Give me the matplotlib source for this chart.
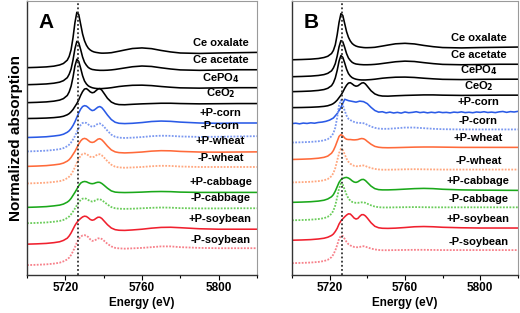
import matplotlib.pyplot as plt
from matplotlib.ticker import MultipleLocator

# energy grid (eV) shared by the read-off spectra
energy = [5700, 5705, 5710, 5714, 5717, 5719, 5721, 5722, 5723, 5724, 5725, 5726, 5727, 5728,
          5729, 5730, 5731, 5732, 5733, 5734, 5735, 5736, 5737, 5738, 5739, 5740, 5742, 5744,
          5746, 5748, 5751, 5755, 5760, 5765, 5770, 5775, 5780, 5790, 5800, 5810, 5820]

# reference compounds (normalized absorption, pre-edge = 0)
ce_oxalate = [0, 0.02, 0.05, 0.1, 0.18, 0.28, 0.5, 0.75, 1.2, 2.0, 3.0, 3.7, 3.55, 2.9, 2.25, 1.8,
              1.5, 1.3, 1.18, 1.1, 1.05, 1.02, 1.0, 0.98, 0.97, 0.97, 0.98, 1.0, 1.05, 1.1, 1.18,
              1.28, 1.32, 1.27, 1.15, 1.05, 0.98, 0.95, 0.98, 1.0, 1.02]
ce_acetate = [0, 0.02, 0.05, 0.1, 0.17, 0.27, 0.47, 0.7, 1.05, 1.65, 2.4, 2.9, 2.8, 2.35, 1.85, 1.5,
              1.3, 1.15, 1.07, 1.02, 1.0, 0.98, 0.97, 0.96, 0.96, 0.96, 0.97, 0.99, 1.02, 1.06, 1.12,
              1.2, 1.25, 1.22, 1.13, 1.05, 0.99, 0.96, 0.98, 1.0, 1.0]
ce_po4 = [0, 0.02, 0.05, 0.1, 0.17, 0.27, 0.48, 0.72, 1.1, 1.7, 2.45, 2.9, 2.75, 2.3, 1.8, 1.45,
          1.25, 1.12, 1.05, 1.0, 0.97, 0.95, 0.94, 0.94, 0.94, 0.95, 0.97, 1.0, 1.04, 1.08, 1.12,
          1.16, 1.17, 1.14, 1.08, 1.03, 0.99, 0.97, 0.99, 1.0, 1.0]
ce_o2 = [0, 0.01, 0.03, 0.06, 0.1, 0.15, 0.25, 0.33, 0.45, 0.6, 0.8, 1.0, 1.25, 1.55, 1.8, 1.97,
         2.0, 1.9, 1.78, 1.72, 1.75, 1.86, 1.97, 2.0, 1.9, 1.72, 1.35, 1.1, 0.98, 0.93, 0.92, 0.95,
         0.98, 1.0, 1.02, 1.02, 1.0, 0.98, 0.99, 1.0, 1.0]

# panel A samples
a_pcorn = [0, 0.02, 0.05, 0.1, 0.15, 0.22, 0.35, 0.45, 0.6, 0.8, 1.05, 1.35, 1.65, 1.9, 2.07, 2.13,
           2.1, 2.0, 1.88, 1.8, 1.83, 1.93, 2.03, 2.07, 2.0, 1.85, 1.5, 1.2, 1.02, 0.95, 0.93, 0.95,
           1.0, 1.07, 1.1, 1.08, 1.03, 0.97, 0.95, 0.97, 0.97]
a_mcorn = [0, 0.02, 0.05, 0.1, 0.15, 0.22, 0.35, 0.45, 0.6, 0.8, 1.02, 1.3, 1.55, 1.77, 1.9, 1.93,
           1.9, 1.8, 1.7, 1.65, 1.68, 1.77, 1.85, 1.87, 1.8, 1.68, 1.38, 1.12, 0.98, 0.92, 0.9, 0.92,
           0.96, 1.02, 1.05, 1.04, 1.0, 0.97, 0.98, 1.0, 1.02]
a_pwheat = [0, 0.02, 0.05, 0.1, 0.15, 0.22, 0.35, 0.45, 0.6, 0.8, 1.0, 1.25, 1.5, 1.7, 1.83, 1.87,
            1.83, 1.73, 1.63, 1.6, 1.63, 1.72, 1.82, 1.85, 1.78, 1.65, 1.35, 1.1, 0.97, 0.92, 0.9,
            0.92, 0.96, 1.02, 1.05, 1.04, 1.0, 0.96, 0.95, 0.96, 0.97]
a_mwheat = [0, 0.02, 0.05, 0.1, 0.15, 0.22, 0.35, 0.45, 0.6, 0.82, 1.08, 1.38, 1.65, 1.85, 1.97, 2.0,
            1.97, 1.88, 1.78, 1.75, 1.78, 1.87, 1.94, 1.95, 1.88, 1.76, 1.48, 1.25, 1.12, 1.07, 1.05,
            1.07, 1.1, 1.15, 1.18, 1.17, 1.13, 1.1, 1.1, 1.1, 1.1]
a_pcab = [0, 0.02, 0.05, 0.1, 0.15, 0.22, 0.35, 0.45, 0.6, 0.8, 1.0, 1.22, 1.45, 1.62, 1.7, 1.73,
          1.71, 1.65, 1.6, 1.58, 1.6, 1.65, 1.68, 1.67, 1.6, 1.5, 1.28, 1.1, 1.02, 1.0, 0.99, 1.0,
          1.02, 1.05, 1.06, 1.05, 1.02, 1.0, 1.0, 1.0, 1.0]
a_mcab = [0, 0.02, 0.05, 0.1, 0.15, 0.22, 0.35, 0.45, 0.6, 0.78, 0.98, 1.2, 1.4, 1.56, 1.64, 1.67,
          1.63, 1.55, 1.48, 1.45, 1.48, 1.55, 1.6, 1.6, 1.55, 1.45, 1.25, 1.08, 1.0, 0.97, 0.96,
          0.97, 1.0, 1.03, 1.05, 1.04, 1.01, 0.99, 0.99, 1.0, 1.0]
a_psoy = [0, 0.02, 0.05, 0.1, 0.16, 0.25, 0.4, 0.55, 0.75, 1.0, 1.25, 1.45, 1.6, 1.72, 1.82, 1.87,
          1.85, 1.76, 1.65, 1.6, 1.63, 1.72, 1.8, 1.8, 1.72, 1.58, 1.3, 1.08, 0.97, 0.93, 0.92, 0.95,
          1.0, 1.07, 1.12, 1.13, 1.1, 1.03, 1.0, 1.0, 1.0]
a_msoy = [0, 0.02, 0.05, 0.1, 0.16, 0.25, 0.38, 0.5, 0.68, 0.92, 1.2, 1.5, 1.75, 1.9, 1.98, 2.0,
          1.97, 1.87, 1.72, 1.62, 1.63, 1.7, 1.78, 1.8, 1.75, 1.65, 1.42, 1.25, 1.15, 1.12, 1.1,
          1.12, 1.15, 1.2, 1.25, 1.25, 1.2, 1.15, 1.13, 1.13, 1.13]

# panel B samples
energy_fine = list(range(5700, 5821, 2))
b_pcorn = [0, 0.03, -0.02, 0.04, 0.01, 0.06, 0.03, 0.09, 0.12, 0.18, 0.28, 0.45, 0.8, 1.3, 1.95,
           1.84, 1.78, 1.72, 1.8, 1.76, 1.6, 1.3, 1.05, 0.92, 0.95, 0.86, 0.92, 0.85, 0.9, 0.84,
           0.93, 0.87, 0.9, 0.95, 0.88, 0.92, 0.86, 0.91, 0.87, 0.93, 0.88, 0.9, 0.86, 0.92, 0.89,
           0.94, 0.88, 0.91, 0.87, 0.93, 0.9, 0.95, 0.89, 0.92, 0.88, 0.94, 0.97, 0.9, 0.96, 0.93,
           0.98]
b_mcorn = [0, 0.02, 0.05, 0.1, 0.17, 0.27, 0.5, 0.75, 1.2, 2.0, 3.0, 3.4, 3.0, 2.55, 2.15, 1.9,
           1.8, 1.72, 1.65, 1.6, 1.58, 1.57, 1.57, 1.55, 1.5, 1.42, 1.28, 1.18, 1.12, 1.1, 1.1,
           1.14, 1.2, 1.2, 1.15, 1.1, 1.07, 1.05, 1.05, 1.05, 1.05]
b_pwheat = [0, 0.02, 0.05, 0.1, 0.17, 0.27, 0.5, 0.72, 1.05, 1.45, 1.85, 2.0, 1.9, 1.72, 1.62, 1.6,
            1.6, 1.58, 1.57, 1.58, 1.6, 1.65, 1.68, 1.66, 1.58, 1.45, 1.22, 1.05, 0.98, 0.95, 0.94,
            0.95, 0.97, 0.99, 1.0, 1.0, 0.99, 0.97, 0.97, 0.97, 0.97]
b_mwheat = [0, 0.02, 0.05, 0.1, 0.17, 0.27, 0.5, 0.75, 1.15, 1.75, 2.35, 2.7, 2.6, 2.25, 1.9, 1.65,
            1.5, 1.4, 1.33, 1.3, 1.3, 1.32, 1.36, 1.36, 1.32, 1.25, 1.15, 1.08, 1.04, 1.02, 1.02,
            1.03, 1.05, 1.06, 1.05, 1.04, 1.03, 1.03, 1.03, 1.03, 1.03]
b_pcab = [0, 0.02, 0.05, 0.1, 0.17, 0.27, 0.45, 0.62, 0.9, 1.25, 1.6, 1.82, 1.92, 1.98, 2.0, 1.95,
          1.85, 1.72, 1.63, 1.6, 1.65, 1.75, 1.83, 1.84, 1.75, 1.6, 1.3, 1.1, 1.02, 1.0, 1.0, 1.02,
          1.06, 1.1, 1.12, 1.1, 1.05, 1.0, 0.98, 0.97, 0.96]
b_mcab = [0, 0.02, 0.05, 0.1, 0.17, 0.28, 0.52, 0.78, 1.2, 1.85, 2.55, 2.96, 2.85, 2.45, 2.05, 1.75,
          1.57, 1.47, 1.42, 1.4, 1.4, 1.42, 1.44, 1.44, 1.4, 1.33, 1.2, 1.1, 1.05, 1.03, 1.03,
          1.04, 1.05, 1.06, 1.05, 1.04, 1.04, 1.04, 1.04, 1.04, 1.04]
b_psoy = [0, 0.02, 0.05, 0.1, 0.16, 0.24, 0.38, 0.5, 0.7, 0.95, 1.3, 1.55, 1.72, 1.88, 2.02, 2.12,
          2.1, 1.95, 1.78, 1.7, 1.75, 1.92, 2.05, 2.05, 1.95, 1.78, 1.4, 1.12, 1.0, 0.96, 0.95,
          0.97, 1.02, 1.08, 1.1, 1.08, 1.04, 1.0, 0.98, 0.98, 0.98]
b_msoy = [0, 0.02, 0.05, 0.1, 0.17, 0.27, 0.48, 0.7, 1.02, 1.45, 1.95, 2.2, 2.18, 1.95, 1.7, 1.52,
          1.42, 1.36, 1.3, 1.28, 1.28, 1.3, 1.34, 1.36, 1.33, 1.27, 1.17, 1.1, 1.06, 1.04, 1.04,
          1.05, 1.06, 1.07, 1.07, 1.06, 1.05, 1.05, 1.05, 1.05, 1.05]

labels = ['Ce oxalate', 'Ce acetate', 'CePO$_4$', 'CeO$_2$', '+P-corn', '-P-corn', '+P-wheat',
          '-P-wheat', '+P-cabbage', '-P-cabbage', '+P-soybean', '-P-soybean']
colors = ['black', 'black', 'black', 'black', '#2a5ae6', '#7b98f0', '#ff6a3a', '#ffa77f',
          '#1aa81a', '#6acc5a', '#f0202e', '#f7808a']
styles = ['-', '-', '-', '-', '-', ':', '-', ':', '-', ':', '-', ':']

offsets_a = [13.87, 12.73, 11.53, 10.47, 9.2, 8.27, 7.27, 6.13, 4.53, 3.47, 2.07, 0.67]
offsets_b = [17.28, 15.92, 14.72, 13.44, 12.16, 10.64, 9.28, 7.44, 5.84, 4.4, 2.8, 0.96]

refs = [ce_oxalate, ce_acetate, ce_po4, ce_o2]
panel_a = refs + [a_pcorn, a_mcorn, a_pwheat, a_mwheat, a_pcab, a_mcab, a_psoy, a_msoy]
panel_b = refs + [b_pcorn, b_mcorn, b_pwheat, b_mwheat, b_pcab, b_mcab, b_psoy, b_msoy]

plt.rcParams['font.family'] = ['Liberation Sans', 'DejaVu Sans']
plt.rcParams['font.weight'] = 'bold'
plt.rcParams['mathtext.default'] = 'bf'

fig = plt.figure(figsize=(5.2, 3.13), dpi=100)
ax_a = fig.add_axes([0.052, 0.121, 0.442, 0.876])
ax_b = fig.add_axes([0.5615, 0.121, 0.4345, 0.876])

def panel(ax, spectra, offsets, ytop, lab_dy, letter, lab_x):
    for i, spec in enumerate(spectra):
        x = energy_fine if len(spec) == len(energy_fine) else energy
        y = [v + offsets[i] for v in spec]
        if styles[i] == ':':
            ax.plot(x, y, color=colors[i], ls=(0, (1, 0.8)), lw=1.3)
        else:
            ax.plot(x, y, color=colors[i], ls='-', lw=1.15)
        ax.text(lab_x, offsets[i] + lab_dy, labels[i], ha='center', va='center',
                fontsize=8, fontweight='bold')
    ax.axvline(5726.5, color='#333333', ls=(0, (1, 1.3)), lw=1.3)
    ax.set_xlim(5700, 5820)
    ax.set_ylim(0, ytop)
    ax.xaxis.set_minor_locator(MultipleLocator(20))
    ax.set_xticks([5720, 5760, 5800])
    ax.tick_params(axis='x', which='major', length=3.5, width=0.8, labelsize=8.5, pad=1.5)
    ax.tick_params(axis='x', which='minor', length=2, width=0.8)
    ax.set_yticks([])
    for s in ['left', 'bottom']:
        ax.spines[s].set_color('#333333')
        ax.spines[s].set_linewidth(1.0)
    for s in ['top', 'right']:
        ax.spines[s].set_color('#9a9a9a')
        ax.spines[s].set_linewidth(0.8)
    ax.set_xlabel('Energy (eV)', fontsize=8.5, fontweight='bold', labelpad=2)
    ax.text(0.05, 0.955, letter, transform=ax.transAxes, fontsize=15, fontweight='bold',
            ha='left', va='top')

panel(ax_a, panel_a, offsets_a, 18.33, 1.67, 'A', 5801)
panel(ax_b, panel_b, offsets_b, 22.0, 1.72, 'B', 5799)
ax_a.set_ylabel('Normalized absorption', fontsize=11, fontweight='bold', labelpad=3)

fig.savefig('out.png', dpi=100)
